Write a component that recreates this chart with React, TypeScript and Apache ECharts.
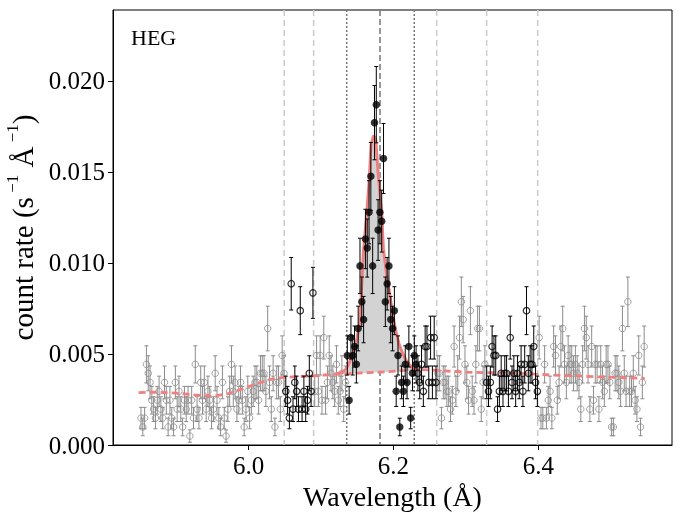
import React, { useEffect, useRef } from "react";
import * as echarts from "echarts";

// HEG bin grid (Å)
const BIN_WIDTH = 0.0025;
// Poisson error scale (rate² per rate unit) for the error bars
const ERR_SCALE = 0.000235;

// gray open points (outside fit windows)
const grayLeftStart = 5.85125;
const grayLeft = [
  0.00148, 0.00099, 0.00148, 0.00443, 0.00394, 0.00344, 0.00246, 0.00197, 0.00148, 0.00246,
  0.00295, 0.00197, 0.00148, 0.00344, 0.00246, 0.00099, 0.00246, 0.00148, 0.00099, 0.00344,
  0.00197, 0.00295, 0.00197, 0.00099, 0.00246, 0.00197, 0.00246, 0.00049, 0.00246, 0.00148,
  0.00443, 0.00197, 0.00148, 0.00344, 0.00246, 0.00344, 0.00197, 0.00295, 0.00246, 0.00148,
  0.00197, 0.00394, 0.00246, 0.00148, 0.00099, 0.00344, 0.00148, 0.00049, 0.00197, 0.00295,
  0.00443, 0.00295, 0.00344, 0.00197, 0.00246, 0.00344, 0.00246, 0.00099, 0.00197, 0.00295,
  0.00148, 0.00246, 0.00295, 0.00344, 0.00344, 0.00246, 0.00394, 0.00394, 0.00394, 0.00295,
  0.0064, 0.00344, 0.00197, 0.00394, 0.00099, 0.00344, 0.00344, 0.00197, 0.00492, 0.00394,
];
const grayMidAStart = 6.09125;
const grayMidA = [
  0.00295, 0.00492, 0.00295, 0.00492, 0.00246, 0.0059, 0.00246, 0.00344, 0.00492, 0.00394,
  0.00344, 0.00295, 0.00443, 0.00246, 0.00295, 0.00394, 0.00197, 0.00344,
];
const grayMidBStart = 6.26125;
const grayMidB = [
  0.00394, 0.00394, 0.00148, 0.00344, 0.00344, 0.00295, 0.00295, 0.00197, 0.00246, 0.00541,
  0.00295, 0.00394, 0.0059, 0.00787, 0.00689, 0.00443, 0.00344, 0.00246, 0.00738, 0.00295,
  0.00246, 0.00443, 0.0064, 0.0064, 0.00197, 0.00344, 0.00443,
];
const grayRightStart = 6.40125;
const grayRight = [
  0.0059, 0.00148, 0.00148, 0.00443, 0.00148, 0.00246, 0.00295, 0.00148, 0.00541, 0.00492,
  0.00246, 0.00344, 0.00541, 0.0064, 0.00443, 0.00344, 0.00492, 0.00443, 0.00443, 0.00394,
  0.00443, 0.00394, 0.00344, 0.00197, 0.00443, 0.0064, 0.0059, 0.00443, 0.00197, 0.00541,
  0.00246, 0.00443, 0.00443, 0.00197, 0.00443, 0.00344, 0.00295, 0.00443, 0.00443, 0.00344,
  0.00099, 0.00099, 0.00394, 0.00394, 0.00344, 0.00295, 0.0064, 0.00394, 0.00295, 0.00787,
  0.00295, 0.00295, 0.00394, 0.00246, 0.00197, 0.00492, 0.00099, 0.00344, 0.00541,
];

// black open points (continuum windows)
const openLeftStart = 6.05125;
const openLeft = [
  0.00295, 0.00246, 0.00148, 0.00886, 0.00197, 0.00344, 0.00295, 0.00197, 0.00738, 0.00197,
  0.00295, 0.00197, 0.00246, 0.00394, 0.00295, 0.00836,
];
const openMidStart = 6.23375;
const openMid = [
  0.00394, 0.00344, 0.00443, 0.00295, 0.00541, 0.00541, 0.00344, 0.0059, 0.00344, 0.0059, 0.00344,
];
const openRightStart = 6.32875;
const openRight = [
  0.00344, 0.00295, 0.00344, 0.00541, 0.00492, 0.00492, 0.00197, 0.00295, 0.00394, 0.00295,
  0.00394, 0.00394, 0.00295, 0.0059, 0.00344, 0.00394, 0.00295, 0.00394, 0.00344, 0.00443,
  0.00295, 0.00443, 0.00738, 0.00394, 0.00443, 0.00443, 0.00541, 0.00344, 0.00295,
];

// black filled points (line window)
const lineCoreStart = 6.13625;
const lineCore = [
  0.00492, 0.00246, 0.0059, 0.00492, 0.00541, 0.00443, 0.0064, 0.00984, 0.00787, 0.00689,
  0.01132, 0.01082, 0.01279, 0.01476, 0.00984, 0.01771, 0.0187, 0.01181, 0.01279, 0.0123,
  0.01574, 0.00787, 0.00886, 0.00984, 0.00689, 0.0064, 0.00738, 0.00295, 0.00492, 0.00099,
  0.00344, 0.00295, 0.00443, 0.00344, 0.00541, 0.00148, 0.00394, 0.00492, 0.00443,
];

// model (line + continuum)
const modelWave = [
  6.12, 6.13, 6.135, 6.14, 6.145, 6.15, 6.1537, 6.1583, 6.163, 6.1666, 6.169, 6.1725, 6.1755,
  6.179, 6.1837, 6.186, 6.19, 6.194, 6.198, 6.203, 6.208, 6.213, 6.217, 6.222, 6.228, 6.235,
];
const modelRate = [
  0.0039, 0.004, 0.0042, 0.0046, 0.0051, 0.0059, 0.0068, 0.0105, 0.0127, 0.0146, 0.0165, 0.017,
  0.0168, 0.0148, 0.0128, 0.0108, 0.0095, 0.0085, 0.0074, 0.0063, 0.0055, 0.005, 0.0047, 0.0044,
  0.0042, 0.0041,
];
// continuum only
const contWave = [
  5.848, 5.87, 5.9, 5.925, 5.95, 5.97, 5.9925, 6.01, 6.03, 6.045, 6.06, 6.09, 6.126, 6.18, 6.236,
  6.25, 6.3, 6.375, 6.416, 6.48, 6.547,
];
const contRate = [
  0.00288, 0.0029, 0.00285, 0.00275, 0.00268, 0.0028, 0.0031, 0.00335, 0.0036, 0.0037, 0.00374,
  0.0038, 0.0039, 0.004, 0.00414, 0.00412, 0.004, 0.00394, 0.00385, 0.00375, 0.00366,
];

// vertical markers (Å)
const lightLines = [6.049, 6.0897, 6.2597, 6.3287, 6.3992];
const dottedLines = [6.1354, 6.2287];
const centerLines = [6.1814];

const xTicks = [6.0, 6.2, 6.4];
const yTicks = [0, 0.005, 0.01, 0.015, 0.02];

const FONT = "'Liberation Serif', 'Times New Roman', serif";

function mk(start: number, vals: number[]) {
  return vals.map((v, k) => [Number((start + k * BIN_WIDTH).toFixed(5)), v, Math.sqrt(v * ERR_SCALE)]);
}

const grayPts = [
  ...mk(grayLeftStart, grayLeft),
  ...mk(grayMidAStart, grayMidA),
  ...mk(grayMidBStart, grayMidB),
  ...mk(grayRightStart, grayRight),
];
const openPts = [...mk(openLeftStart, openLeft), ...mk(openMidStart, openMid), ...mk(openRightStart, openRight)];
const filledPts = mk(lineCoreStart, lineCore);

function errSeries(data: number[][], color: string, z: number) {
  return {
    type: "custom",
    data,
    z,
    silent: true,
    dimensions: ["x", "y", "e"],
    encode: { x: 0, y: 1 },
    renderItem: (params: any, api: any) => {
      const x = api.value(0);
      const y = api.value(1);
      const e = api.value(2);
      const p1 = api.coord([x, y + e]);
      const p2 = api.coord([x, Math.max(0, y - e)]);
      const style = { stroke: color, lineWidth: 1 };
      return {
        type: "group",
        children: [
          { type: "line", shape: { x1: p1[0], y1: p1[1], x2: p2[0], y2: p2[1] }, style },
          { type: "line", shape: { x1: p1[0] - 2, y1: p1[1], x2: p1[0] + 2, y2: p1[1] }, style },
          { type: "line", shape: { x1: p2[0] - 2, y1: p2[1], x2: p2[0] + 2, y2: p2[1] }, style },
        ],
      };
    },
  };
}

function vlineSeries(xs: number[], color: string, dash: number[], width: number) {
  return {
    type: "custom",
    data: xs.map((x) => [x, 0]),
    z: 1,
    silent: true,
    encode: { x: 0, y: 1 },
    renderItem: (params: any, api: any) => {
      const cs = params.coordSys;
      const px = api.coord([api.value(0), 0])[0];
      return {
        type: "line",
        shape: { x1: px, y1: cs.y, x2: px, y2: cs.y + cs.height },
        style: { stroke: color, lineWidth: width, lineDash: dash },
      };
    },
  };
}

export default function App() {
  const ref = useRef<HTMLDivElement>(null);
  useEffect(() => {
    if (!ref.current) return;
    const chart = echarts.init(ref.current, undefined, { renderer: "svg" });
    const modelPts = modelWave.map((w, i) => [w, modelRate[i]]);
    const contPts = contWave.map((w, i) => [w, contRate[i]]);
    const m0 = modelWave[0];
    const m1 = modelWave[modelWave.length - 1];
    const base = contPts.filter((p) => p[0] > m0 && p[0] < m1).reverse();

    const option: any = {
      animation: false,
      grid: {
        left: 113,
        top: 10,
        right: 10,
        bottom: 71,
        show: true,
        borderColor: "#000",
        borderWidth: 1,
        containLabel: false,
        outerBoundsMode: "none",
      },
      xAxis: {
        type: "value",
        min: 5.8126,
        max: 6.5847,
        axisLine: { show: true, lineStyle: { color: "#000", width: 1 } },
        axisTick: { show: true, inside: false, length: 5, customValues: xTicks, lineStyle: { color: "#000" } },
        axisLabel: {
          customValues: xTicks,
          formatter: (v: number) => v.toFixed(1),
          fontFamily: FONT,
          fontSize: 25,
          color: "#000",
          margin: 8,
        },
        splitLine: { show: false },
        name: "Wavelength (Å)",
        nameLocation: "middle",
        nameGap: 31,
        nameTextStyle: { fontFamily: FONT, fontSize: 28, color: "#000" },
      },
      yAxis: {
        type: "value",
        min: 0,
        max: 0.0239,
        axisLine: { show: true, lineStyle: { color: "#000", width: 1 } },
        axisTick: { show: true, inside: false, length: 5, customValues: yTicks, lineStyle: { color: "#000" } },
        axisLabel: {
          customValues: yTicks,
          formatter: (v: number) => v.toFixed(3),
          fontFamily: FONT,
          fontSize: 25,
          color: "#000",
          margin: 8,
        },
        splitLine: { show: false },
        name: "{t|count rate (s}{s| −1}{t| Å}{s| −1}{t|)}",
        nameLocation: "middle",
        nameGap: 60,
        nameRotate: 90,
        nameTextStyle: {
          rich: {
            t: { fontFamily: FONT, fontSize: 29, color: "#000", lineHeight: 34, verticalAlign: "bottom" },
            s: { fontFamily: FONT, fontSize: 17, color: "#000", lineHeight: 34, verticalAlign: "top" },
          },
        },
      },
      graphic: [
        {
          type: "text",
          left: 131,
          top: 26,
          style: { text: "HEG", fontFamily: FONT, fontSize: 22, fill: "#000" },
        },
      ],
      series: [
        vlineSeries(lightLines, "#cccccc", [6, 4], 1.5),
        vlineSeries(dottedLines, "#777777", [2, 2], 1.5),
        vlineSeries(centerLines, "#777777", [6, 3], 1.5),
        errSeries(grayPts, "#8c8c8c", 2),
        {
          type: "scatter",
          data: grayPts.map((p) => [p[0], p[1]]),
          symbol: "circle",
          symbolSize: 6.5,
          z: 2,
          silent: true,
          itemStyle: { color: "rgba(0,0,0,0)", borderColor: "#8c8c8c", borderWidth: 1 },
        },
        {
          type: "custom",
          data: [[6.18, 0.01]],
          z: 3,
          silent: true,
          encode: { x: 0, y: 1 },
          renderItem: (params: any, api: any) => {
            const pts = [...modelPts, ...base].map((p) => api.coord(p));
            return { type: "polygon", shape: { points: pts }, style: { fill: "#d3d3d3" } };
          },
        },
        {
          type: "line",
          data: contPts,
          showSymbol: false,
          z: 4,
          silent: true,
          lineStyle: { color: "#f08080", width: 2.8, type: [7, 4] },
        },
        {
          type: "line",
          data: modelPts,
          showSymbol: false,
          z: 4,
          silent: true,
          lineStyle: { color: "#f08080", width: 3 },
        },
        errSeries(openPts, "#000000", 5),
        {
          type: "scatter",
          data: openPts.map((p) => [p[0], p[1]]),
          symbol: "circle",
          symbolSize: 6.5,
          z: 5,
          silent: true,
          itemStyle: { color: "rgba(0,0,0,0)", borderColor: "#000", borderWidth: 1.2 },
        },
        errSeries(filledPts, "#000000", 5),
        {
          type: "scatter",
          data: filledPts.map((p) => [p[0], p[1]]),
          symbol: "circle",
          symbolSize: 7.5,
          z: 6,
          silent: true,
          itemStyle: { color: "#000", borderColor: "#000", borderWidth: 0 },
        },
      ],
    };
    chart.setOption(option);
    return () => chart.dispose();
  }, []);
  return <div ref={ref} style={{ position: "fixed", left: 0, top: 0, width: 682, height: 516 }} />;
}
